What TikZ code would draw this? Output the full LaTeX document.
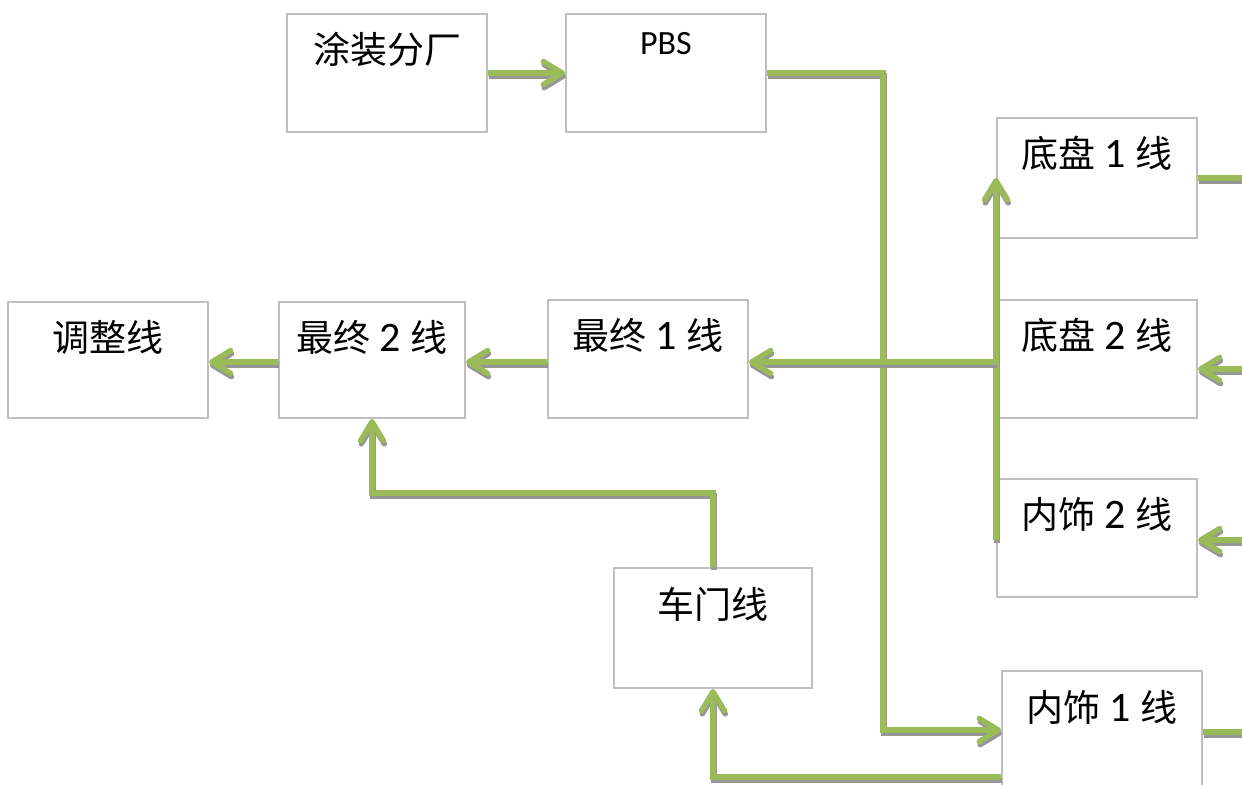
\documentclass[tikz,border=0pt]{standalone}
\usepackage{fontspec}
\setmainfont{Carlito}
\newfontfamily\cjk{Noto Sans CJK SC}
\newcommand\cjt[1]{{\cjk\fontsize{18.5}{23}\selectfont #1}}
\usetikzlibrary{arrows.meta,calc}
\definecolor{flowgreen}{RGB}{155,187,89}
\definecolor{flowshadow}{RGB}{150,150,150}
\definecolor{boxgray}{RGB}{191,191,191}
\begin{document}
\begin{tikzpicture}[x=0.5pt,y=-0.5pt,
  box/.style={draw=boxgray, line width=1pt, fill=white, minimum width=100pt, minimum height=59pt, inner sep=0pt},
  lbl/.style={anchor=base, font=\fontsize{21}{25}\selectfont, inner sep=0pt},
  flow/.style={draw=flowgreen, line width=2.7pt, preaction={draw=flowshadow, line width=2.7pt, transform canvas={shift={(0.4pt,-1.6pt)}}}},
  arr/.style={flow, -{Straight Barb[length=9.5pt, width=11.5pt, round]}}]
\useasboundingbox (0,0) rectangle (1242,785);
% boxes
\node[box] (paint) at (387,73) {};
\node[box] (pbs) at (666,73) {};
\node[box, minimum height=60pt] (dp1) at (1097,178) {};
\node[box] (dp2) at (1097,359) {};
\node[box] (ns2) at (1097,538) {};
\node[box] (ns1) at (1102,730) {};
\node[box] (zz1) at (648,359) {};
\node[box, minimum width=93pt, minimum height=58pt] (zz2) at (372,360) {};
\node[box, minimum height=58pt] (tz) at (108,360) {};
\node[box, minimum width=99pt, minimum height=60pt] (cm) at (713,628) {};
% labels
\node[lbl] (tpaint) at ($(paint.north)+(0,51)$) {\cjt{涂装分厂}};
\node[lbl, font=\fontsize{17}{20}\selectfont] (tpbs) at ($(pbs.north)+(0,42)$) {PBS};
\node[lbl] (tdp1) at ($(dp1.north)+(0,51)$) {\cjt{底盘} 1 \cjt{线}};
\node[lbl] (tdp2) at ($(dp2.north)+(0,51)$) {\cjt{底盘} 2 \cjt{线}};
\node[lbl] (tns2) at ($(ns2.north)+(0,51)$) {\cjt{内饰} 2 \cjt{线}};
\node[lbl] (tns1) at ($(ns1.north)+(0,51)$) {\cjt{内饰} 1 \cjt{线}};
\node[lbl] (tzz1) at ($(zz1.north)+(0,51)$) {\cjt{最终} 1 \cjt{线}};
\node[lbl] (tzz2) at ($(zz2.north)+(0,51)$) {\cjt{最终} 2 \cjt{线}};
\node[lbl] (ttz) at ($(tz.north)+(0,51)$) {\cjt{调整线}};
\node[lbl] (tcm) at ($(cm.north)+(0,51)$) {\cjt{车门线}};
% helper coordinates
\coordinate (j1) at (883,730);
\coordinate (tb) at (996,540);
\coordinate (hj) at (996,362);
\coordinate (k) at (372,493);
\coordinate (m) at (713,777);
\coordinate (R1) at (1242,178);
\coordinate (R2) at (1242,369);
\coordinate (R3) at (1242,540);
\coordinate (R4) at (1242,732);
% connectors
\draw[arr] (paint.east) -- (pbs.west);
\draw[arr] (pbs.east) -| (j1) -- (ns1.west);
\draw[arr] (tb) -- (tb |- dp1.west);
\draw[arr] (hj) -- (hj -| zz1.east);
\draw[arr] (zz1.west |- hj) -- (zz2.east |- hj);
\draw[arr] (zz2.west |- hj) -- (tz.east |- hj);
\draw[arr] (cm.north) |- (k) -- (zz2.south);
\draw[arr] (ns1.west |- m) -| (cm.south);
\draw[flow] (dp1.east |- R1) -- (R1);
\draw[arr] (R2) -- (dp2.east |- R2);
\draw[arr] (R3) -- (ns2.east |- R3);
\draw[flow] (ns1.east |- R4) -- (R4);
\end{tikzpicture}
\end{document}
